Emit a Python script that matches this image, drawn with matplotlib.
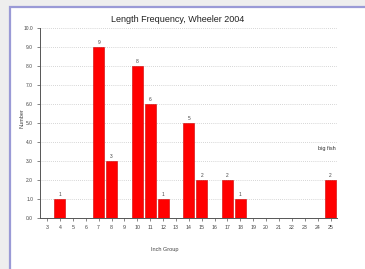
import matplotlib
matplotlib.use("Agg")
import matplotlib.pyplot as plt
from matplotlib.patches import Rectangle

# inch groups and fish counts
inch_groups = list(range(3, 26))
counts = [0, 1, 0, 0, 9, 3, 0, 8, 6, 1, 0, 5, 2, 0, 2, 1, 0, 0, 0, 0, 0, 0, 2]
y_ticks = [0, 1, 2, 3, 4, 5, 6, 7, 8, 9, 10]
note_text = "big fish"
note_group = 25

plt.rcParams["font.family"] = ["Liberation Sans", "DejaVu Sans"]

fig = plt.figure(figsize=(3.65, 2.69), dpi=100, facecolor="#eeeeee")

# card frame around the chart
card = Rectangle((10 / 365, -0.02), 1.0, 1 - 7 / 269 + 0.02, transform=fig.transFigure,
                 facecolor="white", edgecolor="#9a9ad6", linewidth=1.6, zorder=-5)
fig.patches.append(card)

ax = fig.add_axes([40 / 365, 1 - 218 / 269, 297 / 365, 190 / 269])
ax.set_zorder(2)
ax.patch.set_alpha(0)

ax.bar(inch_groups, counts, width=0.85, color="#ff0000", edgecolor="#cc0000",
       linewidth=0.4, zorder=3)

for x, c in zip(inch_groups, counts):
    if c > 0:
        ax.text(x, c + 0.1, str(c), ha="center", va="bottom", fontsize=3.5,
                color="#444444", zorder=4)

ax.text(note_group - 0.3, 3.55, note_text, ha="center", va="bottom",
        fontsize=4, color="#333333")

ax.set_xlim(2.45, 25.5)
ax.set_ylim(0, 10)
ax.set_xticks(inch_groups)
ax.set_xticklabels([str(g) for g in inch_groups], fontsize=3.8, color="#444444")
ax.set_yticks(y_ticks)
ax.set_yticklabels([f"{v:.1f}" for v in y_ticks], fontsize=3.5, color="#444444")
ax.tick_params(axis="both", length=2, width=0.5, pad=3, color="#555555")

ax.yaxis.grid(True, linestyle=(0, (1, 1.5)), color="#c8c8c8", linewidth=0.6, zorder=0)
ax.set_axisbelow(True)

for side in ["top", "right"]:
    ax.spines[side].set_visible(False)
for side in ["left", "bottom"]:
    ax.spines[side].set_linewidth(0.7)
    ax.spines[side].set_color("#555555")

fig.text(178 / 365, 1 - 20 / 269, "Length Frequency, Wheeler 2004", ha="center",
         va="center", fontsize=6.5, color="#222222", zorder=3)
fig.text(22 / 365, 1 - 118 / 269, "Number", rotation=90, ha="center", va="center",
         fontsize=4, color="#444444", zorder=3)
fig.text(165 / 365, 1 - 250 / 269, "Inch Group", ha="center", va="center",
         fontsize=4, color="#444444", zorder=3)

fig.savefig("out.png", dpi=100, facecolor=fig.get_facecolor())
